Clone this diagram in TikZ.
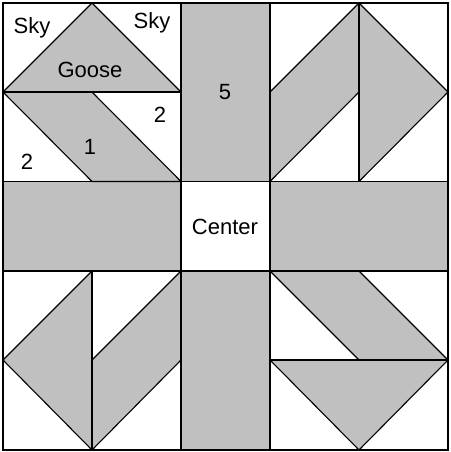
\documentclass[tikz,border=0pt]{standalone}
\usepackage{fontspec}
\setmainfont{Liberation Sans}
\definecolor{patchgray}{RGB}{192,192,192}
\begin{document}
\begin{tikzpicture}[x=1pt,y=-1pt,
  patch/.style={fill=patchgray, draw=black, line width=1.1pt, line join=round},
  seam/.style={draw=black, line width=1.1pt, line cap=rect},
  lbl/.style={font=\fontsize{22}{26}\selectfont, inner sep=0pt, text height=15.7pt, text depth=0pt}]
\useasboundingbox (0,0) rectangle (450,452);
\fill[white] (0,0) rectangle (450,452);
% strips
\path[patch] (181,3) rectangle (270,181.5);
\path[patch] (181,271) rectangle (270,450);
\path[patch] (3,181.5) rectangle (181,271);
\path[patch] (270,181.5) rectangle (448,271);
% top-left block
\path[patch] (3,92) -- (92,3) -- (181,92) -- cycle;
\path[patch] (3,92) -- (92,92) -- (181,181.5) -- (92,181.5) -- cycle;
% top-right block
\path[patch] (359,3) -- (448,92) -- (359,181.5) -- cycle;
\path[patch] (359,3) -- (359,92) -- (270,181.5) -- (270,92) -- cycle;
% bottom-right block
\path[patch] (270,360) -- (448,360) -- (359,450) -- cycle;
\path[patch] (270,271) -- (359,271) -- (448,360) -- (359,360) -- cycle;
% bottom-left block
\path[patch] (92,271) -- (3,360) -- (92,450) -- cycle;
\path[patch] (181,271) -- (181,360) -- (92,450) -- (92,360) -- cycle;
% seams
\draw[seam] (3,3) rectangle (448,450);
\draw[seam] (181,3) -- (181,450);
\draw[seam] (270,3) -- (270,450);
\draw[seam] (3,181.5) -- (448,181.5);
\draw[seam] (3,271) -- (448,271);
\draw[seam] (3,92) -- (181,92);
\draw[seam] (359,3) -- (359,181.5);
\draw[seam] (92,271) -- (92,450);
\draw[seam] (270,360) -- (448,360);
% labels
\node[lbl] (sky1) at (32,25.5) {Sky};
\node[lbl] (sky2) at (152,21) {Sky};
\node[lbl] (goose) at (90,70) {Goose};
\node[lbl] (two1) at (160,115) {2};
\node[lbl] (one) at (90,147) {1};
\node[lbl] (two2) at (27,162) {2};
\node[lbl] (five) at (225,91.5) {5};
\node[lbl] (center) at (225,227) {Center};
\end{tikzpicture}
\end{document}
